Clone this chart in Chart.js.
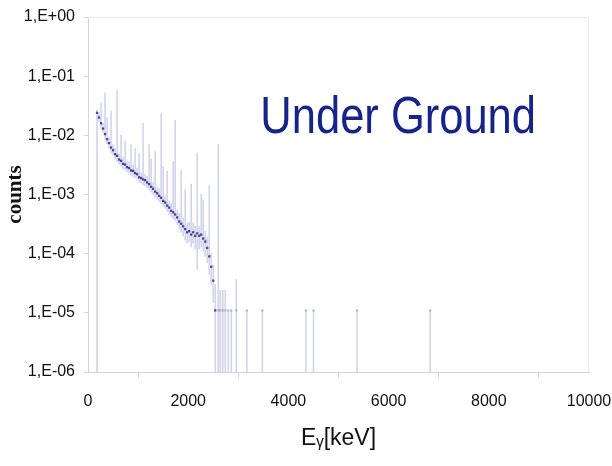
<!DOCTYPE html>
<html>
<head>
<meta charset="utf-8">
<script src="https://cdn.jsdelivr.net/npm/chart.js@4.4.1/dist/chart.umd.min.js"></script>
<style>
  html, body { margin: 0; padding: 0; background: #ffffff; }
  #wrap { width: 612px; height: 466px; }
</style>
</head>
<body>
<div id="wrap"><canvas id="c" width="612" height="466"></canvas></div>
<script>
// ---- data ----
const energies = [
  180, 220, 260, 300, 340, 380, 420, 460, 500, 540,
  580, 620, 660, 700, 740, 780, 820, 860, 900, 940,
  980, 1020, 1060, 1100, 1140, 1180, 1220, 1260, 1300, 1340,
  1380, 1420, 1460, 1500, 1540, 1580, 1620, 1660, 1700, 1740,
  1780, 1820, 1860, 1900, 1940, 1980, 2020, 2060, 2100, 2140,
  2180, 2220, 2260, 2300, 2340, 2380, 2420, 2460, 2500, 2540,
  2600, 2640, 2690, 2740, 2800, 2860, 2960, 3170, 3480, 4350,
  4500, 5370, 6830
];
const counts = [
  2.4e-2, 2.0e-2, 1.6e-2, 1.3e-2, 1.05e-2, 8.6e-3, 7.4e-3, 6.2e-3, 5.6e-3, 4.8e-3,
  4.5e-3, 3.9e-3, 3.7e-3, 3.3e-3, 3.2e-3, 2.9e-3, 2.8e-3, 2.55e-3, 2.5e-3, 2.3e-3,
  2.2e-3, 1.95e-3, 1.9e-3, 1.8e-3, 1.75e-3, 1.6e-3, 1.5e-3, 1.35e-3, 1.25e-3, 1.12e-3,
  1.05e-3, 9.5e-4, 8.8e-4, 7.8e-4, 7.3e-4, 6.5e-4, 6.0e-4, 5.3e-4, 5.0e-4, 4.6e-4,
  4.1e-4, 3.5e-4, 3.2e-4, 2.9e-4, 2.6e-4, 2.3e-4, 2.4e-4, 2.1e-4, 2.3e-4, 2.0e-4,
  2.2e-4, 2.0e-4, 2.1e-4, 1.8e-4, 1.6e-4, 1.25e-4, 9.0e-5, 6.0e-5, 3.5e-5, 1.1e-5,
  1.1e-5, 1.1e-5, 1.1e-5, 1.1e-5, 1.1e-5, 1.1e-5, 1.1e-5, 1.1e-5, 1.1e-5, 1.1e-5,
  1.1e-5, 1.1e-5, 1.1e-5
];
const errHigh = [
  2.7e-2, 2.4e-2, 3.5e-2, 1.6e-2, 5.3e-2, 2.0e-2, 9.2e-3, 2.6e-2, 7.0e-3, 6.0e-3,
  5.7e-2, 4.9e-3, 1.0e-2, 4.2e-3, 8.0e-3, 3.7e-3, 3.6e-3, 7.0e-3, 3.2e-3, 6.0e-3,
  2.8e-3, 5.0e-3, 2.4e-3, 1.6e-2, 2.2e-3, 2.0e-3, 7.0e-3, 4.0e-3, 1.6e-3, 5.4e-3,
  1.35e-3, 1.25e-3, 2.3e-2, 3.0e-3, 9.5e-4, 2.5e-3, 7.8e-4, 7.0e-4, 3.6e-3, 1.8e-2,
  5.5e-4, 4.8e-4, 2.5e-3, 4.0e-4, 1.2e-3, 3.3e-4, 3.4e-4, 1.5e-3, 3.3e-4, 2.9e-4,
  5.0e-3, 2.9e-4, 1.0e-3, 8.0e-4, 2.4e-4, 1.9e-4, 1.4e-3, 1.0e-4, 6.5e-5, 3.0e-5,
  7.0e-3, 2.4e-5, 2.4e-5, 2.4e-5, 1.1e-5, 1.1e-5, 3.7e-5, 1.1e-5, 1.1e-5, 1.1e-5,
  1.1e-5, 1.1e-5, 1.1e-5
];
const errLow = [
  5e-7, 1.7e-2, 1.3e-2, 1.1e-2, 8.5e-3, 7.2e-3, 6.2e-3, 5.0e-3, 4.6e-3, 4.0e-3,
  3.6e-3, 3.2e-3, 3.0e-3, 2.7e-3, 2.6e-3, 2.4e-3, 2.3e-3, 2.1e-3, 2.0e-3, 1.9e-3,
  1.8e-3, 1.6e-3, 1.55e-3, 1.45e-3, 1.4e-3, 1.3e-3, 1.2e-3, 1.1e-3, 1.0e-3, 9.0e-4,
  8.4e-4, 7.6e-4, 7.0e-4, 6.2e-4, 5.8e-4, 5.2e-4, 4.7e-4, 4.2e-4, 3.9e-4, 3.6e-4,
  3.1e-4, 2.6e-4, 2.3e-4, 2.0e-4, 1.7e-4, 1.5e-4, 1.6e-4, 1.3e-4, 1.5e-4, 1.2e-4,
  5.5e-5, 1.2e-4, 1.3e-4, 1.1e-4, 9.0e-5, 7.0e-5, 4.5e-5, 3.0e-5, 1.5e-5, 5e-7,
  5e-7, 5e-7, 5e-7, 5e-7, 5e-7, 5e-7, 5e-7, 5e-7, 5e-7, 5e-7,
  5e-7, 5e-7, 5e-7
];
const xTickValues = [0, 2000, 4000, 6000, 8000, 10000];
const xTickLabels = ['0', '2000', '4000', '6000', '8000', '10000'];
const yTickValues = [1e-6, 1e-5, 1e-4, 1e-3, 1e-2, 1e-1, 1];
const yTickLabels = ['1,E-06', '1,E-05', '1,E-04', '1,E-03', '1,E-02', '1,E-01', '1,E+00'];
const xTitle = 'E\u1D67[keV]';
const yTitle = 'counts';
const annotationText = 'Under Ground';

// ---- build library data from the arrays ----
const pointData = energies.map((e, i) => ({ x: e, y: counts[i] }));
const barData = energies.map((e, i) => ({ x: e, y: [errLow[i], errHigh[i]] }));

const framePlugin = {
  id: 'frame',
  beforeDatasetsDraw(chart) {
    const a = chart.chartArea, ctx = chart.ctx;
    ctx.save();
    ctx.strokeStyle = '#ececec';
    ctx.lineWidth = 1;
    ctx.beginPath();
    ctx.moveTo(a.left, a.top + 0.5);
    ctx.lineTo(a.right - 0.5, a.top + 0.5);
    ctx.lineTo(a.right - 0.5, a.bottom);
    ctx.stroke();
    ctx.restore();
  }
};

const labelPlugin = {
  id: 'underGround',
  afterDraw(chart) {
    const ctx = chart.ctx;
    const xs = chart.scales.x, ys = chart.scales.y;
    const px = xs.getPixelForValue(3440);
    const py = ys.getPixelForValue(0.0108);
    ctx.save();
    ctx.translate(px, py);
    ctx.scale(1, 1.17);
    ctx.font = '43.5px "Liberation Sans", Arial, sans-serif';
    ctx.fillStyle = '#16238a';
    ctx.textBaseline = 'alphabetic';
    ctx.textAlign = 'left';
    ctx.fillText(annotationText, 0, 0);
    ctx.restore();
  }
};

new Chart(document.getElementById('c'), {
  type: 'scatter',
  data: {
    datasets: [
      {
        type: 'bar',
        label: 'error',
        data: barData,
        backgroundColor: 'rgba(125,125,200,0.33)',
        borderWidth: 0,
        barThickness: 1,
        grouped: false,
        order: 2
      },
      {
        type: 'scatter',
        label: 'counts',
        data: pointData,
        pointStyle: 'rect',
        pointRadius: 1.6,
        backgroundColor: (ctx) => (ctx.raw && ctx.raw.x > 2560 ? 'rgba(90,90,170,0.35)' : 'rgba(40,40,135,0.85)'),
        borderWidth: 0,
        order: 1
      }
    ]
  },
  options: {
    responsive: false,
    animation: false,
    events: [],
    layout: { padding: { left: 0, right: 23, top: 17, bottom: 0 } },
    plugins: {
      legend: { display: false },
      tooltip: { enabled: false },
      title: { display: false }
    },
    scales: {
      x: {
        type: 'linear',
        min: 0,
        max: 10000,
        offset: false,
        afterBuildTicks: (s) => { s.ticks = xTickValues.map(v => ({ value: v })); },
        afterFit: (s) => { s.height = 94; s.paddingLeft = 0; s.paddingRight = 0; },
        ticks: {
          callback: (v) => { const i = xTickValues.indexOf(v); return i >= 0 ? xTickLabels[i] : ''; },
          color: '#111111',
          font: { family: '"Liberation Sans", Arial, sans-serif', size: 16 },
          padding: 14,
          maxRotation: 0
        },
        grid: { drawOnChartArea: false, drawTicks: true, tickLength: 6, color: '#d4d4d4' },
        border: { display: true, color: '#d4d4d4', width: 1 },
        title: {
          display: true,
          text: xTitle,
          color: '#111111',
          font: { family: '"Liberation Sans", Arial, sans-serif', size: 23 },
          padding: { top: 0, bottom: 14 }
        }
      },
      y: {
        type: 'logarithmic',
        min: 1e-6,
        max: 1,
        afterBuildTicks: (s) => { s.ticks = yTickValues.map(v => ({ value: v })); },
        afterFit: (s) => { s.width = 88; s.paddingTop = 0; s.paddingBottom = 0; },
        ticks: {
          callback: (v) => { const i = yTickValues.findIndex(t => Math.abs(Math.log10(t) - Math.log10(v)) < 1e-6); return i >= 0 ? yTickLabels[i] : ''; },
          color: '#111111',
          font: { family: '"Liberation Sans", Arial, sans-serif', size: 16 },
          padding: 9,
          autoSkip: false
        },
        grid: { drawOnChartArea: false, drawTicks: true, tickLength: 4, color: '#d4d4d4' },
        border: { display: true, color: '#d4d4d4', width: 1 },
        title: {
          display: true,
          text: yTitle,
          color: '#111111',
          font: { family: '"Liberation Serif", "Times New Roman", serif', size: 21, weight: 'bold' },
          padding: { top: 3, bottom: 0 }
        }
      }
    }
  },
  plugins: [framePlugin, labelPlugin]
});
</script>
</body>
</html>
